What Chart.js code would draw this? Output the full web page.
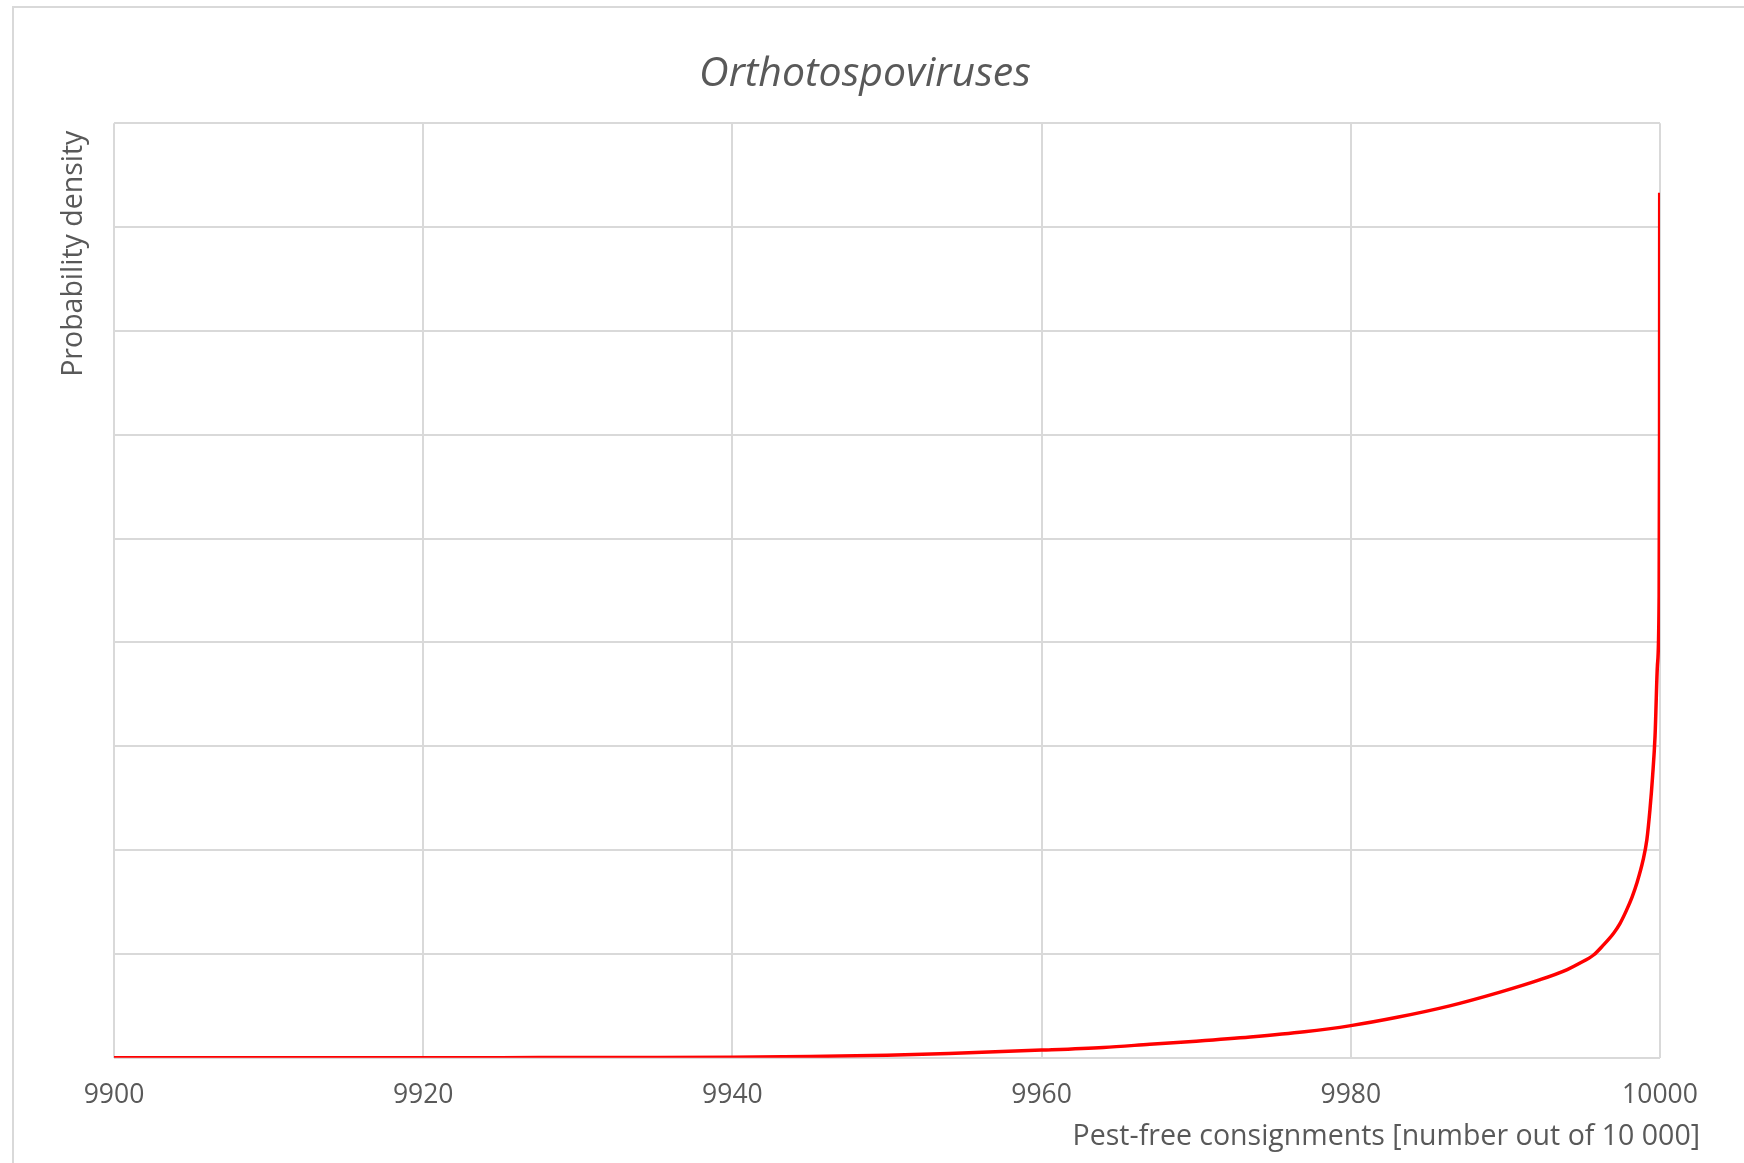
<!DOCTYPE html>
<html>
<head>
<meta charset="utf-8">
<script src="https://cdn.jsdelivr.net/npm/chart.js@4"></script>
<style>
  body { margin: 0; background: #fff; overflow: hidden; }
  #frame { position: absolute; left: 12px; top: 6px; width: 1760px; height: 1180px; border: 2px solid #d9d9d9; }
  #wrap { position: absolute; left: 0; top: 0; width: 1744px; height: 1163px; }
</style>
</head>
<body>
<div id="frame"></div>
<div id="wrap"><canvas id="chart" width="1744" height="1163"></canvas></div>
<script>
// values
const consignments = [9900, 9910, 9920, 9925, 9930, 9935, 9940, 9945, 9950, 9954, 9960, 9964, 9967, 9970, 9973.5, 9977, 9980, 9983, 9986.4, 9989.6, 9992.2, 9994, 9994.8, 9995.7, 9996.3, 9997, 9997.4, 9997.8, 9998.2, 9998.5, 9998.9, 9999.15, 9999.35, 9999.52, 9999.68, 9999.83, 9999.94, 9999.97, 9999.98];
const density = [0, 0, 0, 0.001, 0.003, 0.004, 0.006, 0.012, 0.025, 0.042, 0.074, 0.1, 0.13, 0.16, 0.2, 0.25, 0.31, 0.39, 0.50, 0.63, 0.75, 0.85, 0.91, 0.99, 1.08, 1.2, 1.29, 1.41, 1.55, 1.68, 1.9, 2.1, 2.39, 2.71, 3.1, 3.77, 4.4, 6.0, 8.33];
const xTicks = [9900, 9920, 9940, 9960, 9980, 10000];

const points = consignments.map((x, i) => ({ x: x, y: density[i] }));
const grey = '#595959';
const gridGrey = '#d9d9d9';

const ctx = document.getElementById('chart').getContext('2d');
const chart = new Chart(ctx, {
  type: 'scatter',
  data: {
    datasets: [{
      data: points,
      showLine: true,
      borderColor: '#ff0000',
      borderWidth: 3.5,
      pointRadius: 0,
      cubicInterpolationMode: 'monotone',
      yAxisID: 'y'
    }]
  },
  options: {
    responsive: false,
    animation: false,
    layout: { padding: { left: 30, right: 44, top: 0, bottom: 0 } },
    plugins: {
      legend: { display: false },
      tooltip: { enabled: false },
      title: {
        display: true,
        text: 'Orthotospoviruses',
        color: grey,
        font: { family: 'Open Sans', size: 41, style: 'italic', weight: 'normal' },
        padding: { top: 50, bottom: 24 }
      },
      subtitle: {
        display: true,
        position: 'bottom',
        align: 'end',
        text: 'Pest-free consignments [number out of 10 000]',
        color: grey,
        font: { family: 'Open Sans', size: 28.5 },
        padding: { top: 10, bottom: 9 }
      }
    },
    scales: {
      x: {
        type: 'linear',
        min: 9900,
        max: 10000,
        afterBuildTicks: function (s) { s.ticks = xTicks.map(v => ({ value: v })); },
        ticks: {
          color: grey,
          padding: 22,
          font: { family: 'Open Sans', size: 26.5 },
          callback: v => String(v)
        },
        grid: { color: gridGrey, lineWidth: 2, drawTicks: false },
        border: { display: false },
        afterFit: function (s) { s.height = 52; }
      },
      y: {
        type: 'linear',
        position: 'left',
        min: 0,
        max: 9,
        ticks: { display: false, stepSize: 1 },
        grid: { color: gridGrey, lineWidth: 2, drawTicks: false },
        border: { display: false },
        title: {
          display: true,
          text: 'Probability density ',
          align: 'end',
          color: grey,
          font: { family: 'Open Sans', size: 28.5 },
          padding: { top: 27, bottom: 0 }
        },
        afterFit: function (s) { s.width = 84; }
      },
      yRight: {
        type: 'linear',
        position: 'right',
        ticks: { display: false },
        grid: { display: false, drawTicks: false },
        border: { display: false },
        afterFit: function (s) { s.width = 40; }
      }
    }
  }
});
</script>
</body>
</html>
